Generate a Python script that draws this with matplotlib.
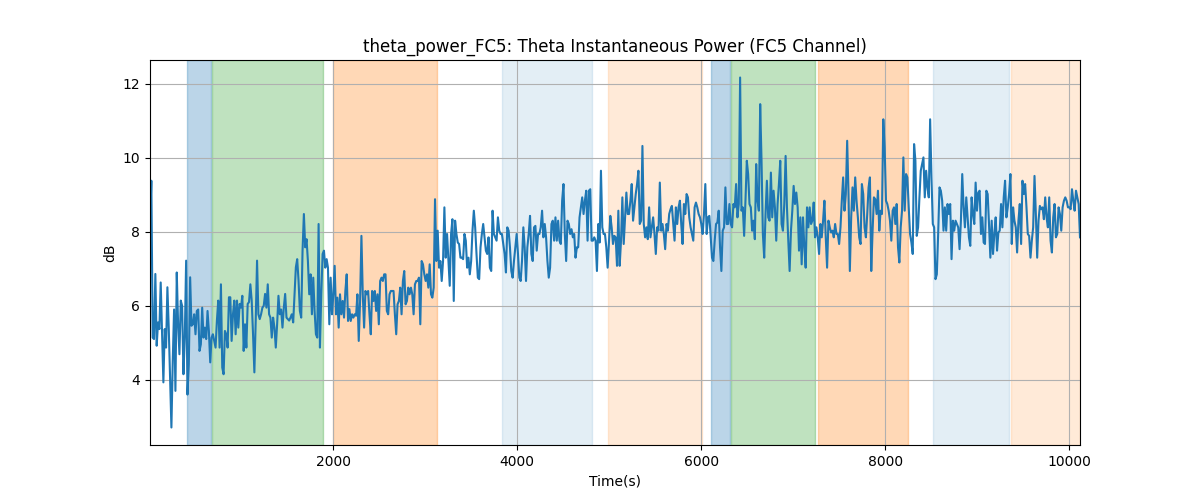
import numpy as np
import matplotlib.pyplot as plt

# theta power (dB) in consecutive chunks
power_a = [8.10, 9.38, 5.14, 5.10, 6.86, 4.92, 5.55, 5.37, 6.63, 5.30, 3.93, 5.37, 4.87, 6.50, 5.41,
           4.06, 2.71, 4.51, 5.90, 3.70, 6.90, 5.50, 4.69, 6.14, 6.00, 4.15, 5.14, 7.22, 3.60, 4.42,
           6.77, 5.46, 5.50, 5.77, 5.23, 5.86, 5.90, 4.78, 4.96, 5.95, 5.14, 5.41, 5.10, 5.86, 5.32,
           4.47, 5.14, 5.23, 5.05, 4.87, 5.60, 6.14, 4.87, 6.58, 4.33, 4.15, 5.32, 5.23, 4.87, 6.23,
           6.23, 5.05, 5.77, 6.14, 5.23, 6.14, 5.41, 6.05, 5.95, 6.27, 4.78, 5.50, 4.87, 6.05, 6.10,
           6.58, 6.14, 5.23, 4.20, 5.60, 7.22, 5.77, 5.64, 5.77, 5.95, 6.00, 6.32, 5.95, 6.58, 5.77,
           5.68, 5.14, 5.68, 5.41, 4.87, 5.50, 6.27, 5.77, 5.90, 5.41, 5.95, 6.32, 5.68, 5.64, 5.60,
           5.68, 5.77, 5.55, 6.32, 7.04, 7.26, 6.68, 5.86, 5.68, 7.49, 8.48, 7.58]
power_b = [7.80, 7.21, 6.31, 6.85, 5.77, 6.76, 5.86, 5.23, 5.14, 8.21, 4.87, 6.31, 7.40, 7.49, 7.03,
           7.26, 7.03, 5.50, 6.76, 5.77, 6.31, 7.08, 5.77, 6.22, 5.41, 6.31, 5.77, 6.13, 5.68, 6.40,
           6.85, 5.59, 5.91, 5.59, 5.77, 5.68, 5.77, 5.73, 6.31, 5.05, 6.13, 7.89, 6.31, 5.41, 6.40,
           6.31, 6.40, 5.77, 5.23, 6.40, 6.13, 6.40, 5.86, 6.31, 5.50, 6.67, 6.76, 6.67, 6.85, 6.85,
           5.86, 5.77, 6.31, 6.40, 6.40, 6.40, 5.77, 5.23, 6.04, 6.13, 6.49, 5.77, 6.67, 6.94, 6.04,
           6.13, 6.49, 6.31, 6.49, 6.31, 5.77, 6.58, 6.67, 6.67, 6.76, 5.50, 7.21, 7.12, 6.85, 6.67,
           6.85, 6.49, 7.12, 6.31, 6.22, 6.49, 8.88, 7.21, 8.03, 7.03, 7.21, 6.67, 7.21, 8.66, 7.30,
           7.94, 7.21, 6.54, 7.94, 8.34, 6.13, 8.30, 7.94, 7.71]
power_c = [7.67, 7.30, 7.30, 7.26, 7.94, 7.76, 7.03, 7.30, 6.85, 7.21, 8.03, 8.57, 8.12, 7.40, 6.76,
           6.72, 7.58, 7.94, 8.21, 7.85, 7.49, 7.40, 7.85, 7.03, 6.94, 8.57, 7.94, 7.85, 7.76, 8.39,
           8.03, 7.94, 7.94, 7.67, 7.40, 6.90, 8.12, 8.03, 7.58, 6.94, 6.76, 7.21, 7.58, 7.94, 7.40,
           6.76, 6.67, 7.21, 8.12, 7.58, 6.67, 7.58, 7.94, 8.43, 7.40, 7.21, 8.12, 8.16, 7.49, 7.94,
           7.94, 8.12, 8.57, 7.85, 8.21, 7.85, 7.21, 6.76, 7.03, 8.21, 8.30, 7.76, 8.39, 7.76, 8.30,
           7.76, 7.67, 8.84, 9.29, 7.94, 7.21, 8.30, 8.21, 7.94, 8.07, 7.85, 7.94, 7.30, 7.58, 7.58,
           8.39, 8.66, 8.93, 8.48, 8.84, 9.11, 7.76, 9.11, 9.15, 7.76, 7.76, 7.85, 7.76, 6.94, 8.21,
           7.71, 9.65, 8.12, 7.94, 7.94, 7.58, 7.03]
power_d = [7.71, 8.43, 8.12, 7.67, 7.89, 7.85, 7.08, 8.57, 7.08, 7.76, 8.93, 7.67, 8.39, 9.06, 8.48,
           8.48, 8.84, 9.29, 8.30, 8.66, 9.02, 9.29, 9.65, 8.21, 8.30, 10.32, 8.21, 7.85, 8.12, 7.80,
           8.66, 7.85, 8.12, 8.39, 7.94, 7.40, 8.12, 8.03, 9.33, 8.03, 8.21, 7.94, 7.53, 8.21, 8.03,
           8.48, 8.61, 8.70, 8.21, 7.76, 8.66, 8.21, 8.66, 8.84, 8.21, 7.67, 8.75, 8.48, 9.02, 8.93,
           8.39, 8.12, 7.94, 7.76, 8.66, 8.79, 8.66, 8.48, 8.39, 8.21, 7.94, 8.48, 9.29, 7.94, 8.39,
           8.43, 7.85, 7.30, 7.21, 7.76, 8.21, 8.25, 8.57, 7.58, 6.94, 8.03, 8.12, 9.20, 8.21, 8.21,
           8.75, 8.21, 8.12, 8.75, 8.66, 9.29, 8.39, 8.75, 12.17, 8.57, 8.66, 7.89, 8.84, 9.92, 9.56,
           8.75, 8.66, 8.03, 8.30, 7.80, 9.83, 8.84, 8.57]
power_e = [11.45, 9.92, 7.94, 7.30, 8.48, 9.38, 8.39, 8.30, 9.60, 8.39, 9.11, 8.66, 7.76, 8.75, 9.29,
           9.92, 8.21, 8.03, 8.75, 10.05, 8.66, 7.76, 6.94, 8.03, 8.57, 9.24, 8.75, 9.06, 8.66, 7.49,
           8.39, 7.12, 8.39, 7.58, 7.03, 8.66, 8.12, 8.66, 8.21, 8.30, 8.79, 7.85, 8.12, 7.85, 7.40,
           8.21, 7.85, 8.30, 8.84, 7.85, 7.03, 8.30, 8.12, 7.98, 8.03, 7.85, 8.21, 7.94, 7.94, 7.67,
           8.12, 8.84, 9.47, 8.57, 9.02, 10.46, 9.02, 6.94, 8.39, 9.20, 8.57, 9.47, 8.84, 8.39, 7.85,
           7.67, 9.29, 9.02, 8.12, 7.85, 8.48, 9.20, 9.47, 6.94, 8.03, 8.93, 8.88, 8.48, 9.11, 8.03,
           8.57, 8.48, 11.04, 10.28, 8.84, 8.75, 8.57, 8.30, 7.76, 8.57, 8.66, 8.21, 8.75, 7.58, 7.17,
           8.12, 8.57, 10.01, 8.57, 9.56, 9.47, 8.66]
power_f = [7.94, 7.71, 7.40, 10.37, 9.92, 7.89, 8.12, 8.93, 9.65, 9.83, 10.01, 8.93, 9.65, 9.20, 8.93,
           11.04, 9.47, 8.21, 8.12, 6.72, 6.85, 7.94, 9.20, 9.11, 8.84, 8.03, 8.66, 8.03, 8.75, 8.48,
           8.75, 7.26, 8.30, 8.03, 8.30, 8.21, 8.12, 7.53, 8.30, 9.56, 8.66, 8.12, 8.93, 8.39, 7.85,
           7.62, 8.93, 8.48, 8.21, 9.33, 8.57, 9.06, 9.11, 7.94, 8.39, 7.71, 7.67, 9.11, 9.02, 8.21,
           7.30, 8.30, 7.40, 7.94, 8.39, 7.49, 7.98, 8.03, 8.75, 8.12, 8.93, 9.38, 8.39, 8.66, 9.02,
           9.56, 7.67, 8.66, 8.30, 8.12, 7.44, 8.30, 8.75, 7.67, 9.38, 9.02, 9.29, 8.66, 7.94, 7.89,
           7.30, 7.76, 8.12, 9.51, 8.48, 7.30, 8.30, 8.70, 8.61, 8.66, 8.34, 8.93, 8.39, 8.12, 8.93,
           7.76, 7.44, 8.39, 8.75, 7.85, 7.94, 8.66, 8.48, 8.03, 8.66, 8.84, 8.93, 8.84, 8.66, 8.66,
           8.61, 9.15, 8.84, 8.57, 9.11, 8.93, 8.75, 7.85]

power = np.concatenate([power_a, power_b, power_c, power_d, power_e, power_f])
time = np.linspace(8, 10116, len(power))

# shaded phases
span_starts = [413, 680, 2000, 3830, 4986, 6105, 6323, 7272, 8522, 9366]
span_ends = [670, 1891, 3124, 4809, 6004, 6312, 7236, 8250, 9348, 10116]
span_colors = ['tab:blue', 'tab:green', 'tab:orange', 'tab:blue', 'tab:orange',
               'tab:blue', 'tab:green', 'tab:orange', 'tab:blue', 'tab:orange']
span_alphas = [0.3, 0.3, 0.3, 0.12, 0.16, 0.3, 0.3, 0.3, 0.12, 0.16]

fig, ax = plt.subplots(figsize=(12, 5))

for s, e, c, a in zip(span_starts, span_ends, span_colors, span_alphas):
    ax.axvspan(s, e, color=c, alpha=a)

ax.plot(time, power, color='tab:blue')

ax.set_xlim(time[0], time[-1])
ax.set_title('theta_power_FC5: Theta Instantaneous Power (FC5 Channel)')
ax.set_xlabel('Time(s)')
ax.set_ylabel('dB')
ax.grid(True)

fig.savefig('out.png')
